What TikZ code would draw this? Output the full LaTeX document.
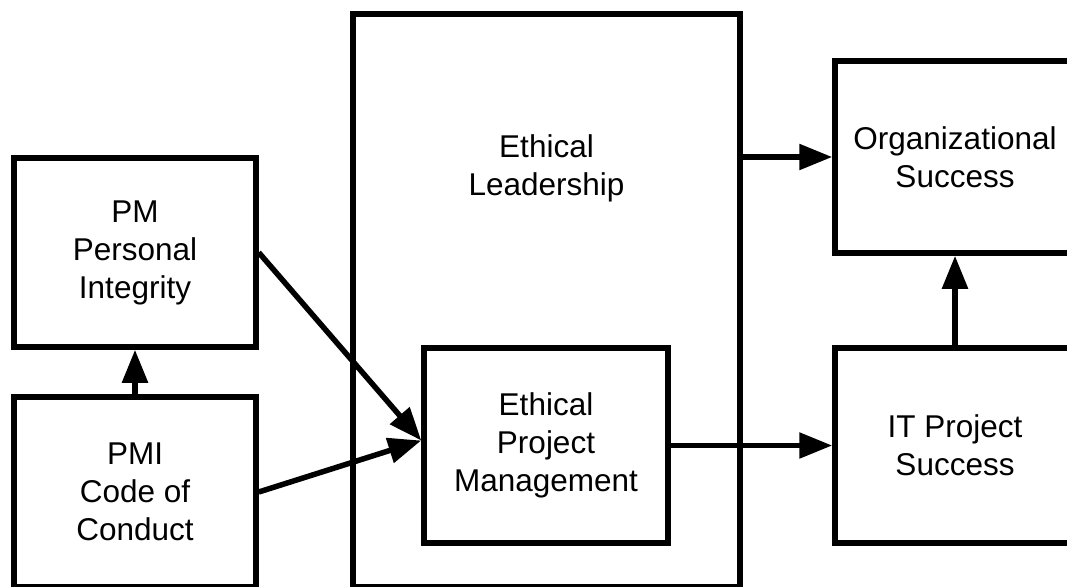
\documentclass[tikz,border=0pt]{standalone}
\usepackage{fontspec}
\setmainfont{Liberation Sans}
\usetikzlibrary{arrows.meta}
\begin{document}
\begin{tikzpicture}[x=1pt,y=-1pt,
  txt/.style={align=center, font=\fontsize{31.5}{38}\selectfont},
  box/.style={txt, draw, line width=5.5pt, inner sep=0pt},
  arr/.style={line width=5.5pt, -{Triangle[length=33pt,width=25pt]}}]
\useasboundingbox (0,0) rectangle (1067,586);
\clip (0,0) rectangle (1067,586);
% boxes
\node[box, minimum width=387pt, minimum height=573pt] (big) at (546.5,300.5) {};
\node[txt] (el) at (546.5,168) {Ethical\\Leadership};
\node[box, minimum width=242pt, minimum height=189pt] (pm) at (135,252.5) {PM\\Personal\\Integrity};
\node[box, minimum width=242pt, minimum height=190pt] (pmi) at (135,492) {PMI\\Code of\\Conduct};
\node[box, minimum width=244pt, minimum height=195pt] (epm) at (546,445.5) {Ethical\\Project\\Management};
\node[box, minimum width=240pt, minimum height=192pt] (org) at (955,157) {Organizational\\Success};
\node[box, minimum width=240pt, minimum height=195pt] (it) at (955,445.5) {IT Project\\Success};
% connectors
\draw[arr] (pmi.north) -- (pm.south);
\draw[arr] (pm.east) -- ([yshift=5pt]epm.west);
\draw[arr] (pmi.east) -- ([yshift=5pt]epm.west);
\draw[arr] (epm.east) -- (it.west);
\draw[arr] (big.east |- org.west) -- (org.west);
\draw[arr] (it.north) -- (org.south);
\end{tikzpicture}
\end{document}
